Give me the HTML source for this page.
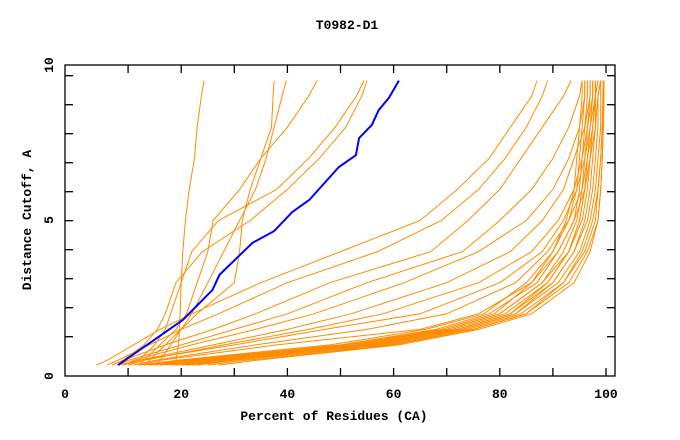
<!DOCTYPE html>
<html><head><meta charset="utf-8">
<style>
body{margin:0;background:#fff;}
svg{display:block;}
text{font-family:"Liberation Mono",monospace;font-weight:bold;fill:#000;}
</style></head>
<body>
<svg id="chart" width="680" height="440" viewBox="0 0 680 440" xmlns="http://www.w3.org/2000/svg">
<text x="347" y="29" font-size="13" text-anchor="middle">T0982-D1</text>
<text x="334" y="420" font-size="13" text-anchor="middle">Percent of Residues (CA)</text>
<text x="31" y="220" font-size="13" text-anchor="middle" transform="rotate(-90 31 220)">Distance Cutoff, A</text>
<g id="lines"></g>
<g id="axes"></g>
</svg>
<script>
const yLevels=[0.35,0.5,1,1.5,2,3,4,5,6,7,8,9,9.5];
const xTickLabels=[0,20,40,60,80,100];
const yTickLabels=[0,5,10];
const orangeSeries=[
[18.5,19,19.5,19.7,19.8,20,20.3,20.8,21.5,22.5,23,23.8,24.3],
[13,14,17,20,23,30,31,31.5,33,35,37,37.3,37.5],
[15,16,18,20,22,25,28,31,34,36,37.5,39,39.8],
[12,13,16,19,21,23,25,26,31,35,40,44,45.6],
[10,12,15,17,18,20,22,27,38,44,49,53,54.4],
[7,9,13,15.5,17,19,24,33,40,46,51,54,55],
[4,6,11,16,22,35,50,65,72,78,82,86,87],
[6,8,14,20,27,40,57,69,76,81,85,88,89],
[7,9,17,26,34,48,67,74,80,84,88,92,93.4],
[8,10,20,30,40,55,73,80,86,90,93,95,95.5],
[9,11,22,34,45,62,76,85,90,93,95,96,96],
[9,12,26,40,52,70,82,88,92,94,96,97,97],
[10,13,28,44,58,76,86,91,94,95.5,96.5,97.5,97.5],
[8,12,30,47,65,80,88,92,94.5,96,97,98,98],
[11,15,34,55,70,83,89,93,95.5,96.5,97.5,98,98.5],
[12,16,38,65,76,86,91,94,96,97,98,98.5,99],
[13,20,50,68,78,87,91,94,95,95.5,96,96.5,96.5],
[15,22,52,70,80,88,92,94.5,95.5,96,96.5,97,97],
[17,24,54,71,81,89,93,95,96,96.5,97,97.5,97.5],
[19,26,55,72,82,90,94,96,97,97.5,98,98,98],
[21,28,57,73,83,91,95,97,98,98.5,99,99,99],
[23,30,58,74,84,92,96,98,98.5,99,99.3,99.5,99.5],
[25,32,60,75,85,93,96.5,98.5,99,99.3,99.5,99.6,99.6],
[27,34,61,76,86,94,97,98.5,99,99.3,99.5,99.6,99.6],
[14,21,51,69,79,86,90,93,94.5,95,95.5,96,96],
[16,23,53,70,80,88,93,95.5,96.5,97,97.5,98,98],
[18,25,56,73,83,90,94,96.5,97.5,98,98.5,98.5,99],
[20,27,54,72,82,89,93,95,96,97,97.5,98,98.5],
[22,29,59,75,85,92,95.5,97.5,98.5,99,99.3,99.4,99.5],
[12,19,48,66,77,85,90,92.5,94,94.5,95,95.5,95.5]
];
const blueX=[8.1,20.3,25.9,27.2,33.4,37.5,40.9,44.1,49.7,52.9,53.5,55.9,57.2,59.1,61];
const blueY=[0.35,1.8,2.77,3.25,4.28,4.66,5.27,5.66,6.72,7.1,7.65,8.07,8.55,8.94,9.5];

const NS="http://www.w3.org/2000/svg";
function xs(v){return 75+5.31*v;}
function ys(v){return 376-31.1*v;}
const lines=document.getElementById('lines');
orangeSeries.forEach((s,i)=>{
  const p=document.createElementNS(NS,'polyline');
  p.setAttribute('points',s.map((x,j)=>xs(x).toFixed(1)+','+ys(yLevels[j]).toFixed(1)).join(' '));
  p.setAttribute('fill','none');p.setAttribute('stroke','#ff8c00');p.setAttribute('stroke-width','1');
  
  
  lines.appendChild(p);
});
const b=document.createElementNS(NS,'polyline');
b.setAttribute('points',blueX.map((x,j)=>xs(x).toFixed(1)+','+ys(blueY[j]).toFixed(1)).join(' '));
b.setAttribute('fill','none');b.setAttribute('stroke','#0000ff');b.setAttribute('stroke-width','2');


lines.appendChild(b);

const axes=document.getElementById('axes');
const fr=document.createElementNS(NS,'rect');
fr.setAttribute('x',65);fr.setAttribute('y',65);fr.setAttribute('width',550);fr.setAttribute('height',311);
fr.setAttribute('fill','none');fr.setAttribute('stroke','#000');fr.setAttribute('stroke-width','1.3');


axes.appendChild(fr);
function ln(x1,y1,x2,y2){const l=document.createElementNS(NS,'line');l.setAttribute('x1',x1);l.setAttribute('y1',y1);l.setAttribute('x2',x2);l.setAttribute('y2',y2);l.setAttribute('stroke','#000');l.setAttribute('stroke-width','1.3');


axes.appendChild(l);}
for(let v=10;v<=100;v+=10){const x=xs(v);ln(x,376,x,368);ln(x,65,x,73);}
for(let k=0;k<10;k++){const y=75.7+29*k;ln(65,y,73,y);ln(615,y,607,y);}
xTickLabels.forEach(v=>{const t=document.createElementNS(NS,'text');t.setAttribute('x',v===0?65:xs(v));t.setAttribute('y',398);t.setAttribute('font-size','13');t.setAttribute('text-anchor','middle');t.textContent=v;


axes.appendChild(t);});
yTickLabels.forEach(v=>{const t=document.createElementNS(NS,'text');const y=v===10?65:v===5?220:376;t.setAttribute('x',53);t.setAttribute('y',y);t.setAttribute('transform','rotate(-90 53 '+y+')');t.setAttribute('font-size','13');t.setAttribute('text-anchor','middle');t.textContent=v;


axes.appendChild(t);});
</script>
</body></html>
